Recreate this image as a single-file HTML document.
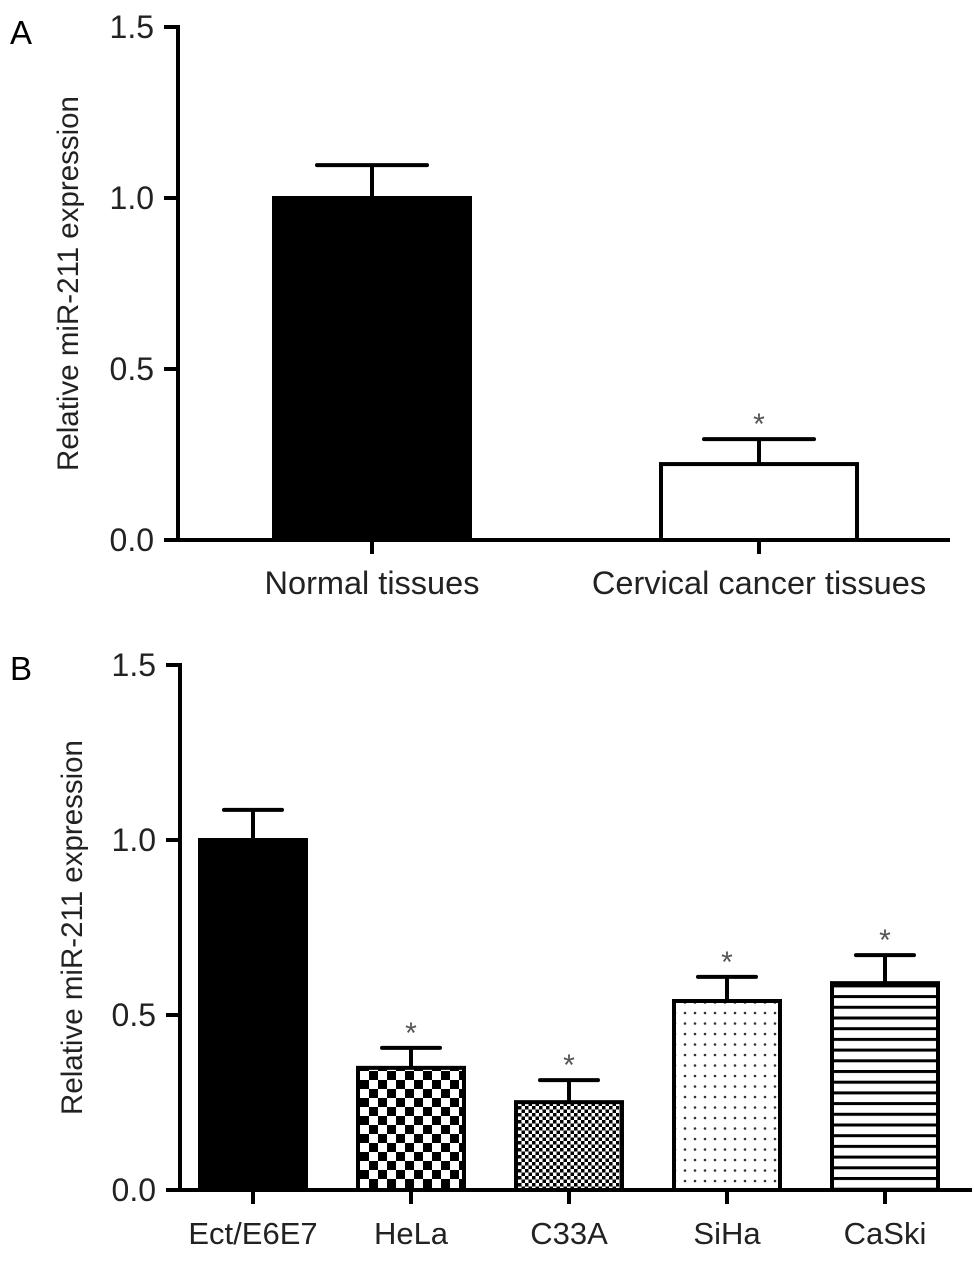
<!DOCTYPE html>
<html><head><meta charset="utf-8"><style>body{margin:0;background:#fff}svg{display:block;font-family:"Liberation Sans",sans-serif}</style></head>
<body>
<svg id="c" width="974" height="1266" viewBox="0 0 974 1266" xmlns="http://www.w3.org/2000/svg">
<defs>
<pattern id="checker" width="18" height="18" patternUnits="userSpaceOnUse"><rect width="18" height="18" fill="#fff"/><rect width="9" height="9" fill="#000"/><rect x="9" y="9" width="9" height="9" fill="#000"/></pattern>
<pattern id="fine" width="7" height="7" patternUnits="userSpaceOnUse"><rect width="7" height="7" fill="#fff"/><rect width="3.5" height="3.5" fill="#000"/><rect x="3.5" y="3.5" width="3.5" height="3.5" fill="#000"/></pattern>
<pattern id="dots" width="10" height="10.5" patternUnits="userSpaceOnUse"><rect width="10" height="10.5" fill="#fff"/><circle cx="5" cy="5" r="1.3" fill="#333"/></pattern>
<pattern id="stripes" width="10" height="10.7" patternUnits="userSpaceOnUse"><rect width="10" height="10.7" fill="#fff"/><rect y="0" width="10" height="3" fill="#000"/></pattern>
</defs>
</svg>
<script>
const catsA=["Normal tissues","Cervical cancer tissues"];
const valsA=[1.0,0.222];
const errA=[0.096,0.073];
const starA=[false,true];
const catsB=["Ect/E6E7","HeLa","C33A","SiHa","CaSki"];
const valsB=[1.0,0.349,0.251,0.54,0.591];
const errB=[0.086,0.057,0.063,0.069,0.08];
const starB=[false,true,true,true,true];
const ticks=["0.0","0.5","1.0","1.5"];
const fillsB=["#000","url(#checker)","url(#fine)","url(#dots)","url(#stripes)"];
const svg=document.getElementById('c');const NS="http://www.w3.org/2000/svg";
function mk(t,a,txt){const e=document.createElementNS(NS,t);for(const k in a)e.setAttribute(k,a[k]);if(txt!=null)e.textContent=txt;svg.appendChild(e);return e;}
function panel(p){
  const y=v=>p.y0-v/1.5*(p.y0-p.y15);
  let e=mk('text',{x:p.lx,y:p.ly,'font-size':33},p.letter);
  
  
  e=mk('line',{x1:p.ax,y1:p.y15-2,x2:p.ax,y2:p.y0+2,stroke:'#000','stroke-width':4});
  
  
  e=mk('line',{x1:p.ax-2,y1:p.y0,x2:p.xend,y2:p.y0,stroke:'#000','stroke-width':4});
  
  
  ticks.forEach(t=>{const v=parseFloat(t);
    mk('line',{x1:p.ax-14,y1:y(v),x2:p.ax,y2:y(v),stroke:'#000','stroke-width':4});
    e=mk('text',{x:p.ax-24,y:y(v)+11,'font-size':32,'text-anchor':'end',fill:'#222'},t);
    
    });
  e=mk('text',{x:0,y:0,'font-size':29.5,'text-anchor':'middle',fill:'#222',transform:`translate(${p.tx},${(p.y0+p.y15)/2}) rotate(-90)`},'Relative miR-211 expression');
  
  
  p.cats.forEach((c,i)=>{
    const cx=p.cx(i),w=p.w,top=y(p.vals[i]),et=y(p.vals[i]+p.err[i]);
    mk('line',{x1:cx,y1:top,x2:cx,y2:et,stroke:'#000','stroke-width':4});
    mk('line',{x1:cx-p.cap/2,y1:et,x2:cx+p.cap/2,y2:et,stroke:'#000','stroke-width':4,'stroke-linecap':'round'});
    e=mk('rect',{x:cx-w/2,y:top,width:w,height:p.y0-top,fill:p.fill(i),stroke:'#000','stroke-width':4});
    
    
    if(p.star[i]){e=mk('text',{x:cx,y:et-5,'font-size':30,'text-anchor':'middle',fill:'#555'},'*');
      
      }
    mk('line',{x1:cx,y1:p.y0,x2:cx,y2:p.y0+14,stroke:'#000','stroke-width':4});
    e=mk('text',{x:cx,y:p.y0+54,'font-size':p.xfs,'text-anchor':'middle',fill:'#222'},c);
    
    
  });
}
panel({letter:'A',lx:10,ly:44,ax:178,y0:540,y15:27,xend:950,tx:78,xfs:32.5,cats:catsA,vals:valsA,err:errA,star:starA,
  cx:i=>372+i*387,w:196,cap:110,fill:i=>i==0?'#000':'#fff'});
panel({letter:'B',lx:10,ly:680,ax:180,y0:1190,y15:665,xend:972,tx:82,xfs:31,cats:catsB,vals:valsB,err:errB,star:starB,
  cx:i=>253+i*158,w:106,cap:58,fill:i=>fillsB[i]});
</script>
</body></html>
